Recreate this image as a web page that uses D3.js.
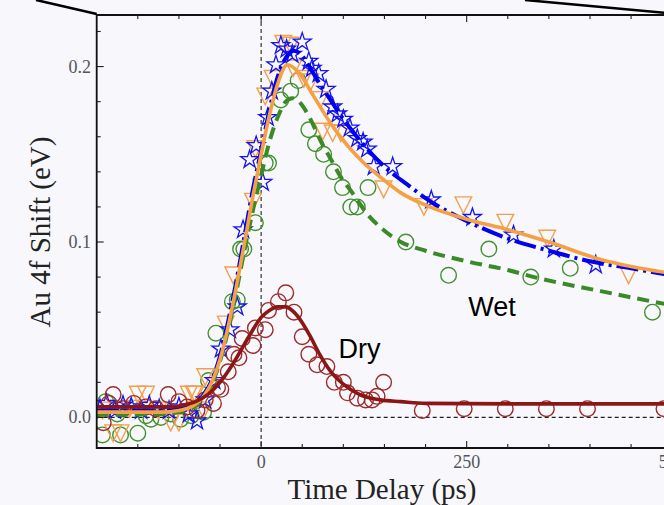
<!DOCTYPE html>
<html><head><meta charset="utf-8">
<script src="https://cdn.jsdelivr.net/npm/d3@7"></script>
<style>html,body{margin:0;padding:0;background:#f7f7fc;overflow:hidden}svg{display:block}</style>
</head><body>
<svg id="c" width="664" height="505"></svg>
<script>
// ---- data (time delay ps, shift eV) ----
const xTicksMajor = [0, 250, 500];
const xTicksMinor = [-150, -100, -50, 50, 100, 150, 200, 300, 350, 400, 450, 550, 600];
const yTicksMajor = [0.0, 0.1, 0.2];
const yTickLabels = ["0.0", "0.1", "0.2"];
const yTicksMinor = [0.02, 0.04, 0.06, 0.08, 0.12, 0.14, 0.16, 0.18, 0.22];

const blueStars = [[-196,0.005],[-188,0.008],[-178,0.004],[-168,0.007],[-158,0.006],[-146,0.004],[-136,0.007],[-124,0.005],[-112,0.004],[-100,0.006],[-88,0.002],[-78,-0.002],
 [-68,0.010],[-57,0.021],[-49,0.039],[-38,0.050],[-29,0.063],[-22,0.107],[-14,0.147],[-6,0.155],[2,0.134],[8,0.171],[13,0.186],[18,0.201],[24,0.212],[31,0.210],[38,0.207],[50,0.214],[58,0.203],[62,0.199],[70,0.196],[79,0.187],[87,0.177],[93,0.173],[100,0.170],[108,0.165],[117,0.159],[124,0.157],[129,0.153],[137,0.143],[160,0.143],[207,0.124],[257,0.114],[307,0.104],[356,0.096],[407,0.087]];
const orangeTris = [[-193,0.004],[-180,-0.009],[-171,-0.009],[-160,0.005],[-150,0.013],[-140,0.013],[-125,0.004],[-110,-0.003],[-100,-0.003],[-88,0.013],[-80,0.013],[-70,0.004],
 [-82,0.013],[-68,0.023],[-43,0.053],[-34,0.081],[-10,0.123],[-7,0.153],[5,0.183],[14,0.193],[27,0.213],[36,0.212],[39,0.199],[52,0.193],[60,0.191],[72,0.181],[75,0.163],[87,0.162],[97,0.162],[149,0.130],[198,0.120],[246,0.121],[297,0.111],[348,0.102],[447,0.081]];
const greenCircles = [[-193,-0.010],[-189,0.009],[-175,0.002],[-171,-0.010],[-150,-0.009],[-140,0.001],[-134,-0.001],[-122,0.000],[-110,0.002],[-98,-0.001],[-85,0.001],[-70,0.003],
 [-64,0.021],[-55,0.048],[-35,0.066],[-29,0.067],[-25,0.096],[-21,0.096],[-7,0.111],[5,0.145],[9,0.145],[24,0.181],[36,0.186],[45,0.192],[58,0.164],[66,0.156],[76,0.150],[88,0.140],[99,0.131],[109,0.120],[117,0.120],[130,0.131],[176,0.100],[228,0.081],[277,0.096],[328,0.080],[376,0.085],[476,0.060]];
const dryCircles = [[-192,-0.003],[-185,0.008],[-180,0.013],[-168,0.005],[-155,0.008],[-140,0.006],[-128,0.005],[-113,0.013],[-100,0.009],[-90,0.006],[-78,0.004],[-68,0.010],
 [-58,0.008],[-53,0.017],[-49,0.016],[-40,0.026],[-33,0.036],[-27,0.034],[-23,0.045],[-10,0.041],[-7,0.051],[5,0.050],[9,0.061],[21,0.066],[30,0.071],[40,0.060],[50,0.046],[58,0.036],[68,0.030],[80,0.029],[89,0.020],[100,0.020],[105,0.014],[117,0.011],[127,0.010],[135,0.010],[141,0.012],[149,0.020],[196,0.004],[247,0.005],[297,0.005],[347,0.005],[397,0.005],[490,0.005]];

const blueFit = [[-200,0.004],[-120,0.004],[-100,0.005],[-85,0.007],[-70,0.013],[-60,0.021],[-50,0.035],[-40,0.055],[-30,0.078],[-20,0.104],[-10,0.130],[0,0.152],[10,0.175],[20,0.194],[30,0.205],[40,0.209],[50,0.206],[60,0.199],[70,0.191],[80,0.184],[100,0.170],[120,0.158],[150,0.143],[180,0.132],[200,0.125],[250,0.112],[300,0.102],[350,0.095],[400,0.089],[450,0.085],[500,0.081],[600,0.075]];
const orangeFit = [[-200,0.003],[-120,0.003],[-100,0.004],[-85,0.006],[-70,0.012],[-60,0.020],[-50,0.033],[-40,0.052],[-30,0.075],[-20,0.100],[-10,0.126],[0,0.150],[10,0.172],[20,0.190],[32,0.201],[45,0.197],[64,0.183],[84,0.168],[105,0.155],[125,0.145],[145,0.137],[170,0.128],[200,0.121],[250,0.113],[300,0.107],[350,0.100],[413,0.090],[450,0.086],[500,0.082],[600,0.076]];
const greenFit = [[-200,0.0015],[-120,0.002],[-100,0.003],[-85,0.005],[-70,0.011],[-60,0.019],[-50,0.032],[-40,0.050],[-30,0.072],[-20,0.096],[-10,0.118],[0,0.138],[10,0.157],[20,0.171],[30,0.180],[38,0.182],[46,0.180],[60,0.170],[72,0.158],[85,0.147],[97,0.137],[111,0.128],[129,0.116],[146,0.108],[170,0.100],[200,0.095],[250,0.089],[300,0.084],[332,0.080],[413,0.072],[500,0.064],[600,0.057]];
const dryFit = [[-200,0.006],[-110,0.006],[-95,0.007],[-80,0.009],[-65,0.013],[-50,0.020],[-35,0.030],[-20,0.042],[-10,0.050],[0,0.057],[10,0.061],[20,0.063],[30,0.063],[40,0.060],[50,0.054],[60,0.046],[70,0.037],[85,0.026],[100,0.019],[120,0.013],[145,0.010],[170,0.009],[200,0.008],[300,0.0077],[500,0.0077],[600,0.0077]];

const labels = [{text:"Wet", t:252, v:0.058}, {text:"Dry", t:94, v:0.034}];

// ---- chart ----
const svg = d3.select("#c");
const L = 96.7, T = 15, B = 448;
const x = d3.scaleLinear().domain([-200, 500]).range([L, L + 575.5]);
const y = d3.scaleLinear().domain([-0.01743, 0.2294]).range([B, T]);
const R = x(600);

svg.append("clipPath").attr("id","clip").append("rect")
  .attr("x", L).attr("y", T).attr("width", R - L).attr("height", B - T);

// zoom-connector lines at top
svg.append("line").attr("x1",36).attr("y1",0).attr("x2",L).attr("y2",T-1)
  .attr("stroke","#000").attr("stroke-width",2.5);
svg.append("line").attr("x1",525).attr("y1",0).attr("x2",700).attr("y2",16)
  .attr("stroke","#000").attr("stroke-width",2.5);

const g = svg.append("g").attr("clip-path","url(#clip)");

// reference dashed lines
g.append("line").attr("x1",L).attr("x2",R).attr("y1",y(0)).attr("y2",y(0))
  .attr("stroke","#222").attr("stroke-width",1.1).attr("stroke-dasharray","4,3");
g.append("line").attr("x1",x(0)).attr("x2",x(0)).attr("y1",T).attr("y2",B)
  .attr("stroke","#222").attr("stroke-width",1.1).attr("stroke-dasharray","4,3");

// markers
function circles(data, color){
  g.append("g").selectAll("circle").data(data).join("circle")
    .attr("cx", d=>x(d[0])).attr("cy", d=>y(d[1])).attr("r", 7.8)
    .attr("fill","none").attr("stroke",color).attr("stroke-width",1.4);
}
circles(greenCircles, "#44922f");
g.append("g").selectAll("path").data(orangeTris).join("path")
  .attr("d","M-8.3,-8.3L8.3,-8.3L0,8.3Z")
  .attr("transform", d=>`translate(${x(d[0])},${y(d[1])})`)
  .attr("fill","none").attr("stroke","#f2a04e").attr("stroke-width",1.4);
g.append("g").selectAll("path").data(blueStars).join("path")
  .attr("d", d3.symbol(d3.symbolStar, 100)())
  .attr("transform", d=>`translate(${x(d[0])},${y(d[1])})`)
  .attr("fill","none").attr("stroke","#1414f0").attr("stroke-width",1.3);
circles(dryCircles, "#9c2c2c");

// fit lines
const line = d3.line().x(d=>x(d[0])).y(d=>y(d[1])).curve(d3.curveMonotoneX);
g.append("path").attr("d", line(greenFit)).attr("fill","none")
  .attr("stroke","#3a8a28").attr("stroke-width",4).attr("stroke-dasharray","12,7");
g.append("path").attr("d", line(blueFit)).attr("fill","none")
  .attr("stroke","#0000ee").attr("stroke-width",4).attr("stroke-dasharray","22,5,3,5");
g.append("path").attr("d", line(orangeFit)).attr("fill","none")
  .attr("stroke","#f4a043").attr("stroke-width",3.6);
g.append("path").attr("d", line(dryFit)).attr("fill","none")
  .attr("stroke","#8a1616").attr("stroke-width",3.6);

// spines
svg.append("path").attr("d",`M${R},${T}H${L}V${B}H${R}`).attr("fill","none")
  .attr("stroke","#111").attr("stroke-width",1.8);

// ticks (inward)
const tk = svg.append("g").attr("stroke","#222").attr("stroke-width",1.1);
xTicksMajor.forEach(t=>{
  tk.append("line").attr("x1",x(t)).attr("x2",x(t)).attr("y1",B).attr("y2",B-7);
  tk.append("line").attr("x1",x(t)).attr("x2",x(t)).attr("y1",T).attr("y2",T+7);
});
xTicksMinor.forEach(t=>{
  tk.append("line").attr("x1",x(t)).attr("x2",x(t)).attr("y1",B).attr("y2",B-4);
  tk.append("line").attr("x1",x(t)).attr("x2",x(t)).attr("y1",T).attr("y2",T+4);
});
yTicksMajor.forEach(v=>{
  tk.append("line").attr("x1",L).attr("x2",L+7).attr("y1",y(v)).attr("y2",y(v));
});
yTicksMinor.forEach(v=>{
  tk.append("line").attr("x1",L).attr("x2",L+4).attr("y1",y(v)).attr("y2",y(v));
});

// tick labels
const serif = "'Liberation Serif', 'DejaVu Serif', serif";
svg.append("g").selectAll("text").data(xTicksMajor).join("text")
  .attr("x", d=>x(d)).attr("y", 468).attr("text-anchor","middle")
  .attr("font-family",serif).attr("font-size",18).attr("fill","#555").text(d=>d);
svg.append("g").selectAll("text").data(yTicksMajor).join("text")
  .attr("x", 91).attr("y", d=>y(d)+6).attr("text-anchor","end")
  .attr("font-family",serif).attr("font-size",18).attr("fill","#555").text((d,i)=>yTickLabels[i]);

// axis titles
svg.append("text").attr("x",382).attr("y",499).attr("text-anchor","middle")
  .attr("font-family",serif).attr("font-size",29).attr("fill","#222").text("Time Delay (ps)");
svg.append("text").attr("transform","translate(50,232) rotate(-90)").attr("text-anchor","middle")
  .attr("font-family",serif).attr("font-size",29).attr("fill","#222").text("Au 4f Shift (eV)");

// in-plot labels
svg.append("g").selectAll("text").data(labels).join("text")
  .attr("x", d=>x(d.t)).attr("y", d=>y(d.v)).attr("font-family","'Liberation Sans', Arial, sans-serif")
  .attr("font-size",27).attr("fill","#000").text(d=>d.text);
</script>
</body></html>
